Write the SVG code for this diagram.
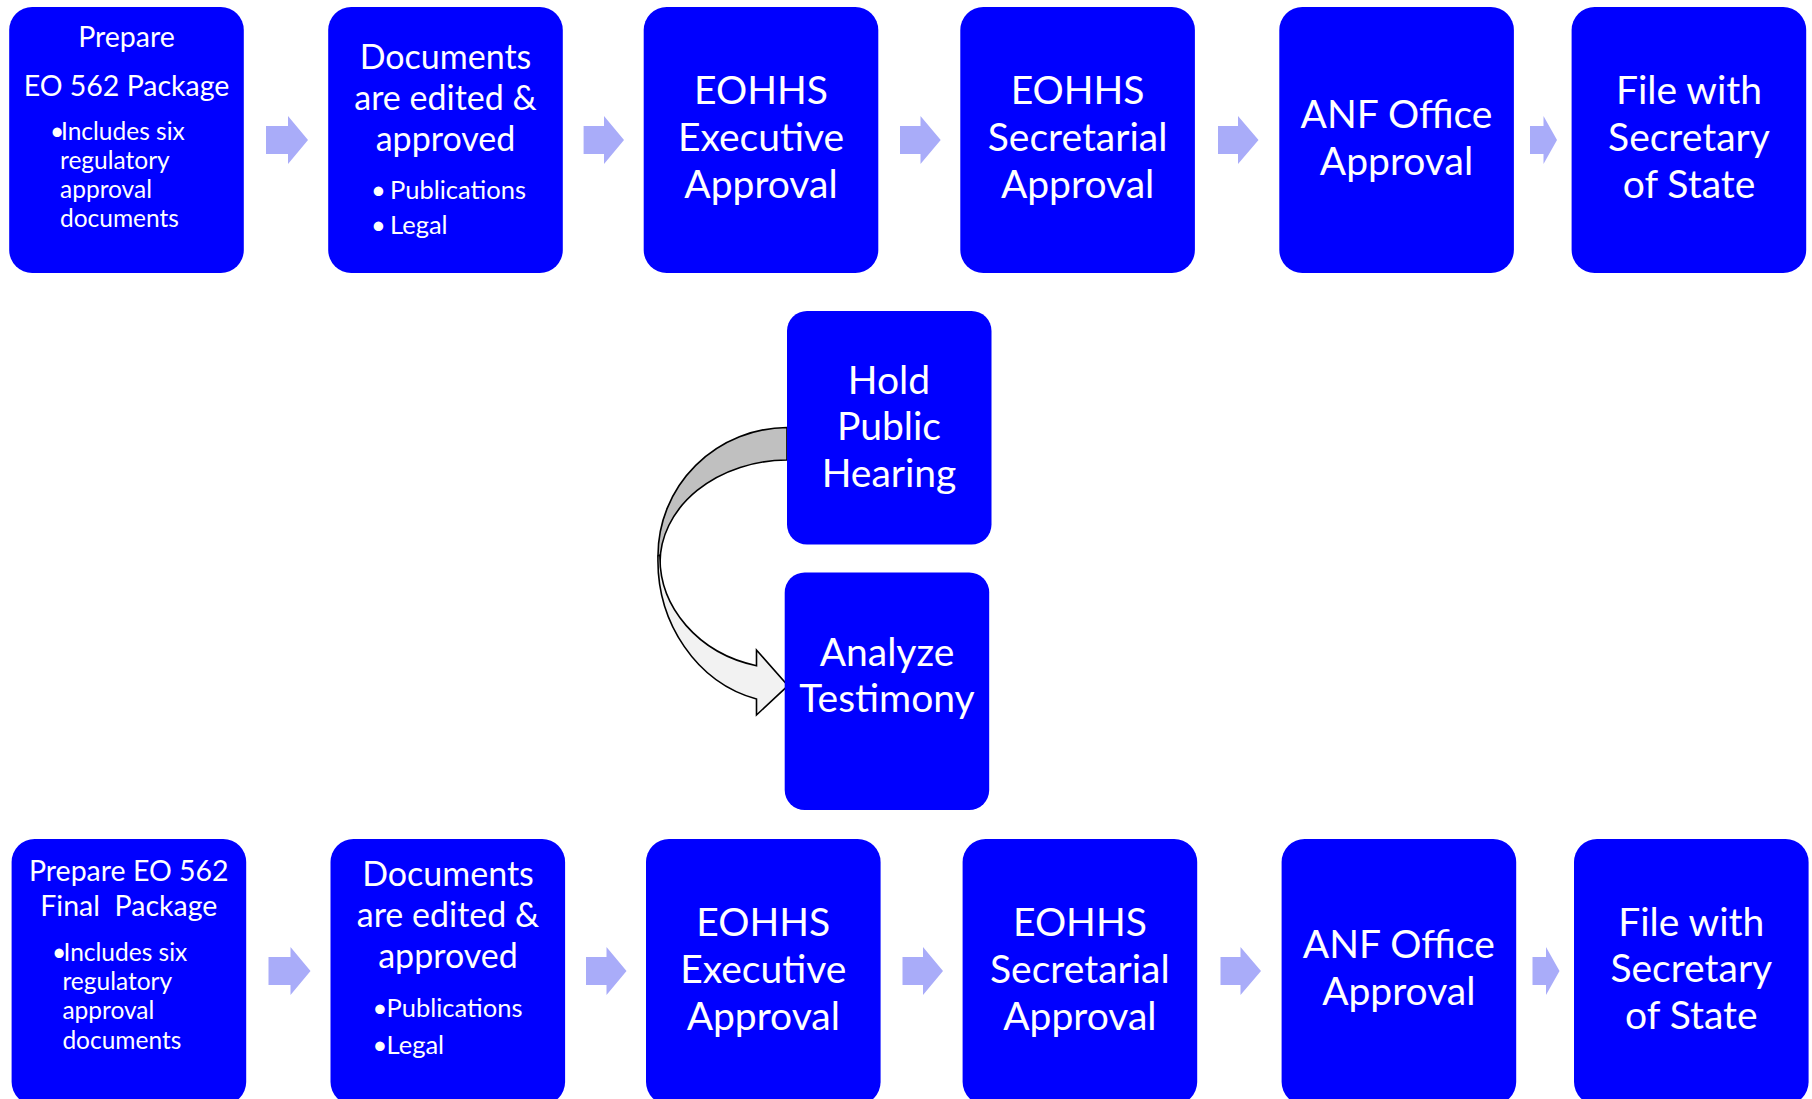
<svg xmlns="http://www.w3.org/2000/svg" width="1812" height="1099" viewBox="0 0 1812 1099">
<style>
.box{fill:#0000FF;}
.t{fill:#FFFFFF;font-family:Lato,"Open Sans",sans-serif;}
.c{text-anchor:middle;}
.big{font-size:39px;}
.doc{font-size:34px;}
.prep{font-size:28.5px;}
.sm{font-size:24.5px;}
.pub{font-size:25.5px;}
.arr{fill:#A9ACF9;}
.curve{stroke:#000000;stroke-width:1.6;stroke-linejoin:miter;}
</style>
<rect width="1812" height="1099" fill="#FFFFFF"/>
<g id="connectors">
  <path class="arr" d="M266,126 H288 V116 L308,140 L288,164 V154 H266 Z"/>
  <path class="arr" d="M583.6,126 H604 V116 L624,140 L604,164 V154 H583.6 Z"/>
  <path class="arr" d="M900,126 H920.5 V116 L940.7,140 L920.5,164 V154 H900 Z"/>
  <path class="arr" d="M1218,126 H1238 V116 L1258.5,140 L1238,164 V154 H1218 Z"/>
  <path class="arr" d="M1530,126 H1543.5 V116 L1557,140 L1543.5,164 V154 H1530 Z"/>
  <path class="arr" d="M268.5,957 H290.5 V947 L310.5,971 L290.5,995 V985 H268.5 Z"/>
  <path class="arr" d="M586,957 H606.5 V947 L626.5,971 L606.5,995 V985 H586 Z"/>
  <path class="arr" d="M902.5,957 H923 V947 L943,971 L923,995 V985 H902.5 Z"/>
  <path class="arr" d="M1220.5,957 H1240.5 V947 L1261,971 L1240.5,995 V985 H1220.5 Z"/>
  <path class="arr" d="M1532.5,957 H1546 V947 L1559.5,971 L1546,995 V985 H1532.5 Z"/>
  <path class="curve" fill="#C0C0C0" d="M787,427.5 A130,128 0 0 0 658,555.5 L660,563 A128,103 0 0 1 787,460 Z"/>
  <path class="curve" fill="#F2F2F2" d="M658,556 A130,143 0 0 0 756.5,699 L756.5,715 L788,685.7 L756.5,650 L756.5,665.7 A126,111 0 0 1 660,555 Z"/>
</g>
<g id="n1"><rect class="box" x="9.2" y="7" width="234.6" height="266" rx="23"/>
  <text class="t c prep" x="126.5" y="47">Prepare</text>
  <text class="t c prep" x="126.5" y="96">EO 562 Package</text>
  <text class="t sm" x="50" y="140">•</text>
  <text class="t sm" x="61" y="140">Includes six</text>
  <text class="t sm" x="60" y="169">regulatory</text>
  <text class="t sm" x="60" y="198">approval</text>
  <text class="t sm" x="60" y="227">documents</text>
</g>
<g id="n2"><rect class="box" x="328.2" y="7" width="234.6" height="266" rx="23"/>
  <text class="t c doc" x="445.5" y="69">Documents</text>
  <text class="t c doc" x="445.5" y="110">are edited &amp;</text>
  <text class="t c doc" x="445.5" y="151">approved</text>
  <text class="t pub" x="371" y="199">•</text>
  <text class="t pub" x="390" y="199">Publications</text>
  <text class="t pub" x="371" y="233.5">•</text>
  <text class="t pub" x="390" y="233.5">Legal</text>
</g>
<g id="n3"><rect class="box" x="643.7" y="7" width="234.6" height="266" rx="23"/>
  <text class="t c big" x="761" y="104">EOHHS</text>
  <text class="t c big" x="761" y="151">Executive</text>
  <text class="t c big" x="761" y="197.5">Approval</text>
</g>
<g id="n4"><rect class="box" x="960.3" y="7" width="234.6" height="266" rx="23"/>
  <text class="t c big" x="1077.6" y="104">EOHHS</text>
  <text class="t c big" x="1077.6" y="151">Secretarial</text>
  <text class="t c big" x="1077.6" y="197.5">Approval</text>
</g>
<g id="n5"><rect class="box" x="1279.3" y="7" width="234.6" height="266" rx="23"/>
  <text class="t c big" x="1396.5" y="128">ANF Office</text>
  <text class="t c big" x="1396.5" y="174.5">Approval</text>
</g>
<g id="n6"><rect class="box" x="1571.6" y="7" width="234.6" height="266" rx="23"/>
  <text class="t c big" x="1689" y="104">File with</text>
  <text class="t c big" x="1689" y="151">Secretary</text>
  <text class="t c big" x="1689" y="197.5">of State</text>
</g>
<g id="n7"><rect class="box" x="787" y="311" width="204.5" height="233.5" rx="20"/>
  <text class="t c big" x="889" y="394">Hold</text>
  <text class="t c big" x="889" y="440">Public</text>
  <text class="t c big" x="889" y="486.5">Hearing</text>
</g>
<g id="n8"><rect class="box" x="784.7" y="572.5" width="204.5" height="237.5" rx="20"/>
  <text class="t c big" x="887" y="665.5">Analyze</text>
  <text class="t c big" x="887" y="711.5">Testimony</text>
</g>
<g id="n9"><rect class="box" x="11.6" y="839" width="234.6" height="266" rx="23"/>
  <text class="t c prep" x="128.8" y="881">Prepare EO 562</text>
  <text class="t c prep" x="128.8" y="916" style="white-space:pre" xml:space="preserve">Final  Package</text>
  <text class="t sm" x="52" y="960.5">•</text>
  <text class="t sm" x="63.5" y="960.5">Includes six</text>
  <text class="t sm" x="62.4" y="990">regulatory</text>
  <text class="t sm" x="62.4" y="1019">approval</text>
  <text class="t sm" x="62.4" y="1048.5">documents</text>
</g>
<g id="n10"><rect class="box" x="330.5" y="839" width="234.6" height="266" rx="23"/>
  <text class="t c doc" x="448" y="886">Documents</text>
  <text class="t c doc" x="448" y="927">are edited &amp;</text>
  <text class="t c doc" x="448" y="967.5">approved</text>
  <text class="t pub" x="372.5" y="1017">•</text>
  <text class="t pub" x="386.5" y="1017">Publications</text>
  <text class="t pub" x="372.5" y="1054">•</text>
  <text class="t pub" x="386.5" y="1054">Legal</text>
</g>
<g id="n11"><rect class="box" x="646" y="839" width="234.6" height="266" rx="23"/>
  <text class="t c big" x="763.3" y="936">EOHHS</text>
  <text class="t c big" x="763.3" y="983">Executive</text>
  <text class="t c big" x="763.3" y="1029.5">Approval</text>
</g>
<g id="n12"><rect class="box" x="962.6" y="839" width="234.6" height="266" rx="23"/>
  <text class="t c big" x="1079.9" y="936">EOHHS</text>
  <text class="t c big" x="1079.9" y="983">Secretarial</text>
  <text class="t c big" x="1079.9" y="1029.5">Approval</text>
</g>
<g id="n13"><rect class="box" x="1281.6" y="839" width="234.6" height="266" rx="23"/>
  <text class="t c big" x="1398.8" y="958">ANF Office</text>
  <text class="t c big" x="1398.8" y="1005">Approval</text>
</g>
<g id="n14"><rect class="box" x="1574" y="839" width="234.6" height="266" rx="23"/>
  <text class="t c big" x="1691.3" y="935.5">File with</text>
  <text class="t c big" x="1691.3" y="982">Secretary</text>
  <text class="t c big" x="1691.3" y="1028.5">of State</text>
</g>
</svg>
